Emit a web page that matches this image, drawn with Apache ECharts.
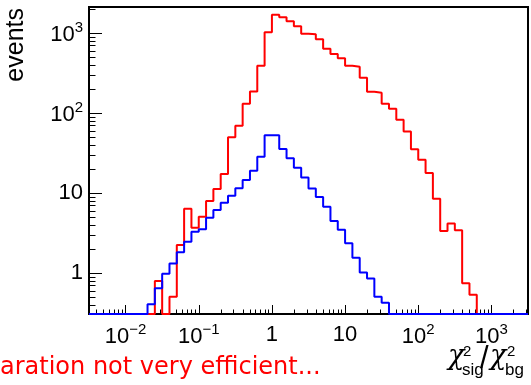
<!DOCTYPE html>
<html><head><meta charset="utf-8">
<script src="https://cdn.jsdelivr.net/npm/echarts@6/dist/echarts.min.js"></script>
<style>html,body{margin:0;padding:0;background:#fff}#c{width:531px;height:385px}</style>
</head><body><div id="c"></div>
<script>
// histogram binning: 60 log-spaced bins (10 per decade), edges given as log10 exponents
const binEdgeExp = [
  -2.5,-2.4,-2.3,-2.2,-2.1,-2.0,-1.9,-1.8,-1.7,-1.6,
  -1.5,-1.4,-1.3,-1.2,-1.1,-1.0,-0.9,-0.8,-0.7,-0.6,
  -0.5,-0.4,-0.3,-0.2,-0.1,0.0,0.1,0.2,0.3,0.4,
  0.5,0.6,0.7,0.8,0.9,1.0,1.1,1.2,1.3,1.4,
  1.5,1.6,1.7,1.8,1.9,2.0,2.1,2.2,2.3,2.4,
  2.5,2.6,2.7,2.8,2.9,3.0,3.1,3.2,3.3,3.4,
  3.5
];
// red histogram (bin contents)
const redValues = [
  0,0,0,0,0,0,0,0,0,0.80,
  0,0.51,2.26,6.4,3.72,5.1,8.0,11.3,17.4,50,
  70,132,187,394,1029,1700,1590,1410,1228,988,
  971,841,642,551,487,394,381,279,186,181,
  132,114,83,59,35.5,26.3,17.9,8.56,3.37,4.18,
  3.46,0.75,0.54,0,0,0,0,0,0,0
];
// blue histogram (bin contents)
const blueValues = [
  0,0,0,0,0,0,0,0,0.41,0.65,
  0.99,1.33,1.83,2.48,3.31,3.55,4.95,6.2,7.6,9.3,
  11.6,14.7,19.2,28.7,53,53,35.8,27.4,20.9,15.8,
  11.5,9.0,6.8,4.5,3.5,2.37,1.57,1.02,0.86,0.51,
  0.43,0,0,0,0,0,0,0,0,0,
  0,0,0,0,0,0,0,0,0,0
];
const xMajorTicks = [0.01, 0.1, 1, 10, 100, 1000];
const yMajorTicks = [1, 10, 100, 1000];
const xDecades = [-3,-2,-1,0,1,2,3];
const yDecades = [-1,0,1,2,3];
const minorMultipliers = [2,3,4,5,6,7,8,9];
const X_MIN = Math.pow(10, -2.5), X_MAX = Math.pow(10, 3.5);
const Y_MIN = 0.31, Y_MAX = 2130;
const xTitle = {chi:'χ', sup:'2', subSig:'sig', slash:'/', subBg:'bg'};
const yTitle = 'events';
const noteText = 'aration not very efficient...';

const binEdges = binEdgeExp.map(e => Math.pow(10, e));
function minorTicks(decades){
  const out=[];
  decades.forEach(n => minorMultipliers.forEach(k => out.push(+(k*Math.pow(10,n)).toPrecision(6))));
  return out;
}
function histPoints(vals){
  const pts = vals.map((v,i) => [binEdges[i], v > 0 ? v : Y_MIN]);
  const last = vals[vals.length-1];
  pts.push([binEdges[vals.length], last > 0 ? last : Y_MIN]);
  return pts;
}
function powLabel(v){
  const e = Math.round(Math.log10(v));
  if (e === 0) return '{p|1}';
  if (e === 1) return '{p|10}';
  return '{m|10}{s|' + (e < 0 ? '\u2212' + (-e) : e) + '}';
}
const FONT = '"Liberation Sans", Arial, sans-serif';
const CHI_FONT = 'italic 27px "DejaVu Serif", serif';
const rich = {
  p:{fontSize:22, fontFamily:FONT, color:'#000', lineHeight:26},
  m:{fontSize:22, fontFamily:FONT, color:'#000', lineHeight:26, verticalAlign:'bottom'},
  s:{fontSize:15, fontFamily:FONT, color:'#000', verticalAlign:'top'}
};
function txt(x, y, text, font, fill){
  return {type:'text', x:x, y:y, style:{text:text, font:font, fill:fill||'#000',
    align:'left', verticalAlign:'middle', textAlign:'left', textVerticalAlign:'middle'}};
}

const chart = echarts.init(document.getElementById('c'), null, {renderer:'canvas'});
const axisCommonX = {type:'log', logBase:10, min:X_MIN, max:X_MAX, gridIndex:0, position:'bottom',
  splitLine:{show:false}, axisLine:{show:false}};
const axisCommonY = {type:'log', logBase:10, min:Y_MIN, max:Y_MAX, gridIndex:0, position:'left',
  splitLine:{show:false}, axisLine:{show:false}};
chart.setOption({
  animation:false,
  backgroundColor:'#fff',
  grid:{left:89, top:7, width:439, height:307, show:true, borderColor:'#000', borderWidth:2, backgroundColor:'transparent'},
  xAxis:[
    Object.assign({}, axisCommonX, {
      axisTick:{show:true, inside:true, length:9, customValues:xMajorTicks, lineStyle:{color:'#000', width:1}},
      axisLabel:{show:true, customValues:xMajorTicks, margin:8, formatter:powLabel, rich:rich, color:'#000'}
    }),
    Object.assign({}, axisCommonX, {
      axisTick:{show:true, inside:true, length:4.5, customValues:minorTicks(xDecades), lineStyle:{color:'#000', width:1}},
      axisLabel:{show:false}
    })
  ],
  yAxis:[
    Object.assign({}, axisCommonY, {
      axisTick:{show:true, inside:true, length:13, customValues:yMajorTicks, lineStyle:{color:'#000', width:1}},
      axisLabel:{show:true, customValues:yMajorTicks, margin:6, formatter:powLabel, rich:rich, color:'#000'}
    }),
    Object.assign({}, axisCommonY, {
      axisTick:{show:true, inside:true, length:6.5, customValues:minorTicks(yDecades), lineStyle:{color:'#000', width:1}},
      axisLabel:{show:false}
    })
  ],
  series:[
    {name:'red', type:'line', step:'end', symbol:'none', clip:false, xAxisIndex:0, yAxisIndex:0,
     data:histPoints(redValues), lineStyle:{color:'#ff0000', width:2}},
    {name:'blue', type:'line', step:'end', symbol:'none', clip:false, xAxisIndex:0, yAxisIndex:0,
     data:histPoints(blueValues), lineStyle:{color:'#0000ff', width:2}}
  ],
  graphic:[
    {type:'text', x:16.5, y:8, rotation:Math.PI/2, style:{text:yTitle, font:'25px '+FONT, fill:'#000', align:'right', verticalAlign:'middle', textAlign:'right', textVerticalAlign:'middle'}},
    txt(0, 367.7, noteText, '24px "DejaVu Sans"', '#ff0000'),
    txt(448, 357, xTitle.chi, CHI_FONT),
    txt(463, 351.6, xTitle.sup, '15px '+FONT),
    txt(462, 370.4, xTitle.subSig, '17px '+FONT),
    txt(480, 359.8, xTitle.slash, '31px '+FONT),
    txt(490, 357, xTitle.chi, CHI_FONT),
    txt(507, 351.6, xTitle.sup, '15px '+FONT),
    txt(505, 370.4, xTitle.subBg, '17px '+FONT)
  ]
});
</script>
</body></html>
